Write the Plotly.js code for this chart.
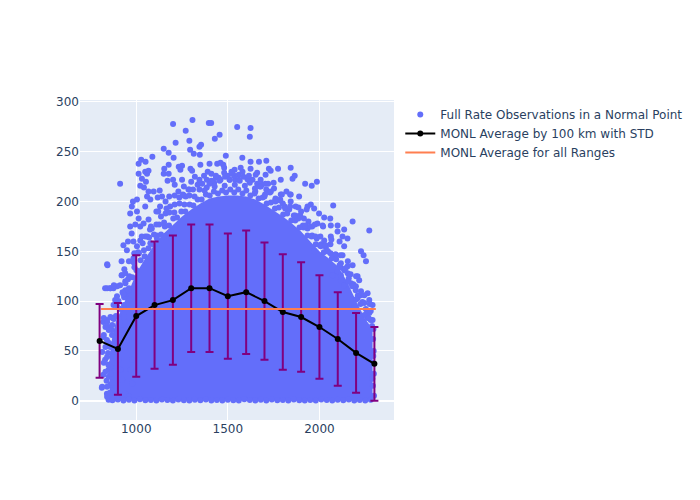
<!DOCTYPE html>
<html>
<head>
<meta charset="utf-8">
<script src="https://cdn.plot.ly/plotly-3.0.1.min.js"></script>
<style>html,body{margin:0;padding:0;background:#fff;}#chart{width:700px;height:500px;}</style>
</head>
<body>
<div id="chart"></div>
<script>
// Individual full-rate observations (range km, rate) (fringe of the cloud)
const obsRange = [
1201,1307,1396,1409,1270,1455,1429,1551,1215,1290,1354,1345,1294,1314,1347,1150,1177,1088,1204,1027,1051,1013,1489,1537,1153,1177,1232,1250,1241,1296,1305,1350,1400,1442,1460,1475,1013,1049,1059,1067,912,1031,1053,1022,1042,1150,1177,1171,1201,1210,1095,1128,1067,982,976,1004,1059,1077,1117,1141,967,995,1022,1040,1080,930,949,989,1004,1022,1049,1077,1113,1150,1196,
1260,1290,1320,1345,1370,1385,1410,1425,1450,1480,1500,1520,1540,1560,1580,1110,1130,1160,1180,1230,1250,1270,
967,1004,1049,1013,1067,920,935,960,985,975,955,843,
922,940,912,940,958,830,858,876,885,876,840,821,849,867,821,840,858,876,830,867,849,821,812,858,840,867,849,
841,920,896,941,960,841,859,878,941,963,933,823,841,859,832,850,823,869,933,941,923,951,933,960,941,832,814,841,823,859,832,850,869,841,814,859,878,841,905,914,923,941,960,978,969,978,
1624,1620,1579,1624,1670,1710,1624,1724,1734,1774,1843,1706,1679,1606,1652,1789,1853,1865,1922,1958,1986,1752,1789,1843,1889,1843,1935,1953,1971,1998,2026,2059,2075,1989,2017,2062,2099,2135,2181,2272,2099,2126,2153,2135,2062,2026,2227,2241,2126,2080,2044,2007,1971,
1650,1680,1700,1720,1760,1800,1820,1870,1900,1915,1880,1940,1960,
2254,2117,2154,2181,2208,2217,2199,2172,2135,2117,2227,2263,2272,2290,2245,2208,2190,2272,2290,2263,2099,2072,2117,2154,
870,895,925,955,985,1010,1035,1060,1085,1110,1135,1160,1185,1210,1235,1260,1285,1310,1335,1360,1385,1410,1435,1460,1485,1510,1535,1560,1585,1610,1635,1660,1685,1710,1735,1760,1785,1810,1835,1860,1885,1910,1935,1960,1985,2010,2035,2060,2085,2110,2135,2160,2185,2210,2235,2260,2280,2295,
868,889,913,934,957,979,1001,1024,1046,1067,1091,1112,1135,1156,1179,1202,1223,1246,1268,1291,1312,1335,1357,1380,1401,1424,1446,1469,1490,1513,1535,1557,1580,1601,1623,1646,1668,1690,1712,1735,1757,1779,1802,1824,1846,1868,1891,1913,1935,1957,1980,2002,2024,2046,2068,2091,2113,2135,2157,2179,2202,2224,2246,2268,2287,
878,903,930,962,990,1015,1042,1070,1097,1125,1152,1181,1208,1236,1263,1290,1318,1345,1373,1400,1428,1455,1483,1510,1538,1565,1593,1620,1648,1675,1703,1730,1758,1786,1813,1840,1868,1895,1923,1950,1978,2005,2033,2060,2088,2115,2143,2170,2198,2225,2253,2280,
895,940,985,1030,1075,1120,1165,1210,1255,1300,1345,1390,1435,1480,1525,1570,1615,1660,1705,1750,1795,1840,1885,1930,1975,2020,2065,2110,2155,2200,2245,2275,
2293,2296,2291,2297,2292,2298,2294,2289,
852,846,838,862,848,856,
870,900,930,960,990,1020,1050,1080,1110,1140,1170,1200,1230,1260,1290,1320,1350,1380,1410,1440,1470,1500,1530,1560,1590,1620,1650,1680,1710,1740,1770,1800,1830,1860,1890,1920,1950,1980,2010,2040,2070,2100,2130,2160,2190,2220,2250,2280
];
const obsRate = [
278,282,279,279,271,267,263,275,259,261,257,255,252,248,247,253,249,245,244,242,240,238,246,232,233,237,235,236,232,233,231,237,238,238,239,237,228,230,228,231,218,223,220,216,214,228,228,221,222,217,210,211,210,200,195,202,205,202,204,205,175,177,175,178,175,156,151,148,155,161,165,158,163,165,166,
215,212,225,222,226,214,228,219,224,229,226,230,222,227,230,190,195,200,205,210,222,205,
188,190,195,183,182,140,132,140,160,168,160,136,
126,120,116,111,108,113,113,113,101,96,81,79,74,71,64,61,54,49,41,38,31,26,13,16,7,4,1,
137,126,115,118,113,113,113,116,104.5,101,96,83,79,84,74,71,66,76,84,79,71,68,63,61,54,54,49,44,38,34,29,24,18,14,14,7,2,4,41,31,21,7,4,17,31,41,
274,265,244,240,240,241,233,233,231,233,234,227,222,223,227,222,223,226,218,216,220,213,207,207,205,200,195,197,193,188,184,183,196,178,176,176,176,172,180,171,170,165,163,155,165,161,150,146,146,146,150,155,150,
210,215,205,218,200,198,210,195,190,183,185,180,175,
140,138,135,136,125,121,115,118,116,121,110,108,101,96,98,103,94,88,81,83,130,126,126,128,
83,95,109,122,139,149,158,165,173,177,185,188,195,197,204,206,212,212,217,218,222,221,224,222,225,222,226,222,225,222,222,218,217,212,210,203,201,195,192,186,183,176,173,166,163,157,154,148,144,136,132,123,117,106,99,89,81,72,
66,85,92,104,111,124,131,141,145,153,157,166,167,175,176,183,184,190,190,197,196,202,202,207,206,210,208,211,209,212,209,212,208,211,206,208,203,204,198,199,193,194,187,188,181,181,174,174,166,165,157,156,149,150,143,142,134,131,120,115,102,97,86,83,75,
82,100,107,125,134,148,151,164,167,177,179,189,189,198,197,206,205,212,211,218,215,221,216,222,217,221,216,219,213,215,207,209,201,202,193,195,186,186,176,175,165,165,156,157,147,146,133,127,111,106,92,90,
105,128,143,165,172,190,193,206,207,220,219,230,226,234,228,234,226,229,218,219,207,207,194,192,177,175,162,160,140,125,106,97,
62,50,38,27,15,5,45,22,
58,48,20,27,36,8,
0.5,1.2,0.3,0.9,0.2,1.5,0.4,0.8,0.1,1.1,0.6,0.3,1.3,0.5,0.2,0.9,0.4,1.2,0.3,0.7,0.1,1.0,0.5,0.2,1.4,0.6,0.3,0.9,0.2,1.1,0.4,0.7,0.2,1.3,0.5,0.1,0.8,0.3,1.2,0.6,0.2,0.9,0.4,1.1,0.3,0.7,0.2,1.0
];

// Outline of the solid (fully overlapped) core of the observation cloud
const coreRange = [855,855,870,890,920,950,980,1000,1050,1100,1150,1200,1250,1300,1350,1400,1450,1500,1550,1600,1650,1700,1750,1800,1850,1900,1950,2000,2050,2100,2150,2200,2250,2290,2290];
const coreRate  = [0,45,65,80,92,105,118,128,143,157,168,177,185,192,198,203,205,206,206,205,202,197,191,185,178,170,160,150,143,135,120,100,82,72,0];

// Averages by 100 km with standard deviation
const binRange = [800,900,1000,1100,1200,1300,1400,1500,1600,1700,1800,1900,2000,2100,2200,2300];
const binMean  = [60,52,85,96,101,113,113,105,109,100,89,84,74,62,48,37];
const binStd   = [37,46,61,64,65,64,64,63,62,59,58,55,52,47,40,37];

// Average for all ranges
const allRange = [808,2308];
const allMean  = [92,92];

const dotColor = '#636efa';

const traces = [
  {x: coreRange, y: coreRate, type: 'scatter', mode: 'lines', fill: 'toself',
   fillcolor: dotColor, line: {width: 0, color: dotColor}, showlegend: false, hoverinfo: 'skip'},
  {x: obsRange, y: obsRate, type: 'scatter', mode: 'markers', name: 'Full Rate Observations in a Normal Point',
   marker: {color: dotColor, size: 6}},
  {x: binRange, y: binMean, type: 'scatter', mode: 'lines+markers', name: 'MONL Average by 100 km with STD',
   line: {color: 'black', width: 2}, marker: {color: 'black', size: 6},
   error_y: {type: 'data', array: binStd, visible: true, color: 'purple', thickness: 2, width: 4}},
  {x: allRange, y: allMean, type: 'scatter', mode: 'lines', name: 'MONL Average for all Ranges',
   line: {color: '#ff7f50', width: 2}}
];

const layout = {
  width: 700, height: 500,
  paper_bgcolor: '#ffffff', plot_bgcolor: '#E5ECF6',
  font: {family: '"DejaVu Sans", Verdana, sans-serif', color: '#2a3f5f', size: 12},
  margin: {t: 100, b: 80, l: 80, r: 80},
  xaxis: {range: [693, 2407], gridcolor: '#ffffff', zeroline: false, showline: false, ticks: '',
          tickvals: [1000,1500,2000]},
  yaxis: {range: [-19.4, 302], gridcolor: '#ffffff', zeroline: true, zerolinecolor: '#ffffff', zerolinewidth: 2,
          showline: false, ticks: '', tickvals: [0,50,100,150,200,250,300]},
  showlegend: true
};

Plotly.newPlot('chart', traces, layout, {displayModeBar: false, staticPlot: true});
</script>
</body>
</html>
